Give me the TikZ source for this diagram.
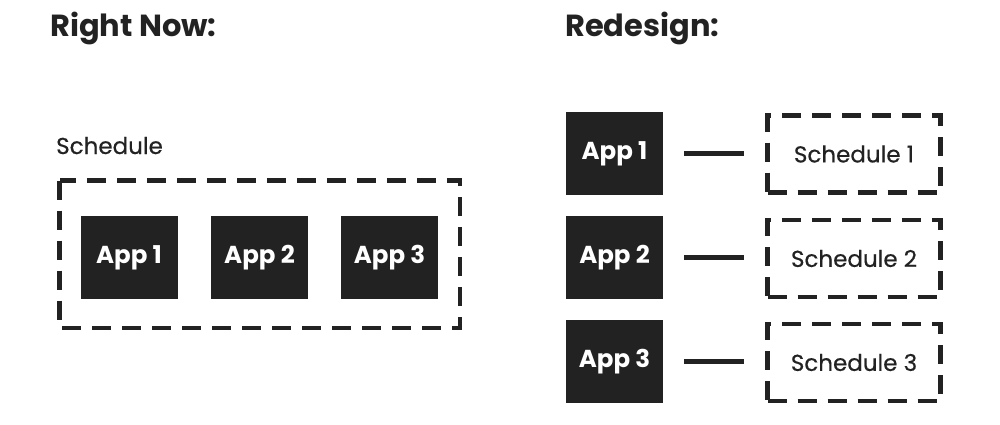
\documentclass[tikz,border=0pt]{standalone}
\usepackage{fontspec}
\setmainfont{Poppins}
\newfontfamily\medfont[FakeBold=0.5]{Poppins}
\definecolor{ink}{HTML}{222222}
\begin{document}
\begin{tikzpicture}[x=1pt,y=-1pt,
  appbox/.style={fill=ink,draw=none,inner sep=0pt,minimum width=97pt,minimum height=83pt,
    text=white,font=\fontsize{24.5}{28}\selectfont\bfseries},
  dashbox/.style={draw=ink,line width=4.5pt,dash pattern=on 19pt off 11pt},
  link/.style={draw=ink,line width=5pt},
  title/.style={anchor=base west,inner sep=0pt,text=ink,font=\fontsize{30.5}{34}\selectfont\bfseries},
  lbl/.style={inner sep=0pt,text=ink,font=\fontsize{23}{27}\selectfont\medfont}]
\useasboundingbox (0,0) rectangle (1000,424);
\node[title] (t1) at (50,36) {Right Now:};
\node[title] (t2) at (565,36) {Redesign:};
\node[lbl,anchor=base west] (sl) at (56,154) {Schedule};
\draw[dashbox] (59.5,180.5) rectangle (460,328);
\node[appbox] (a1) at (129,257.5) {App 1};
\node[appbox] (a2) at (259.5,257.5) {App 2};
\node[appbox] (a3) at (389.5,257.5) {App 3};
% right
\node[appbox] (b1) at (614.5,153.5) {App 1};
\node[appbox] (b2) at (614.5,257.5) {App 2};
\node[appbox] (b3) at (614.5,361.5) {App 3};
\node[dashbox,minimum width=173pt,minimum height=77pt,inner sep=0pt,lbl] (s1) at (854,154) {Schedule 1};
\node[dashbox,minimum width=173pt,minimum height=77pt,inner sep=0pt,lbl] (s2) at (854,258.5) {Schedule 2};
\node[dashbox,minimum width=173pt,minimum height=77pt,inner sep=0pt,lbl] (s3) at (854,362.5) {Schedule 3};
\path[link] ([xshift=21pt]b1.east) -- ([xshift=-21pt]b1.east -| s1.west);
\path[link] ([xshift=21pt]b2.east) -- ([xshift=-21pt]b2.east -| s2.west);
\path[link] ([xshift=21pt]b3.east) -- ([xshift=-21pt]b3.east -| s3.west);
\end{tikzpicture}
\end{document}
